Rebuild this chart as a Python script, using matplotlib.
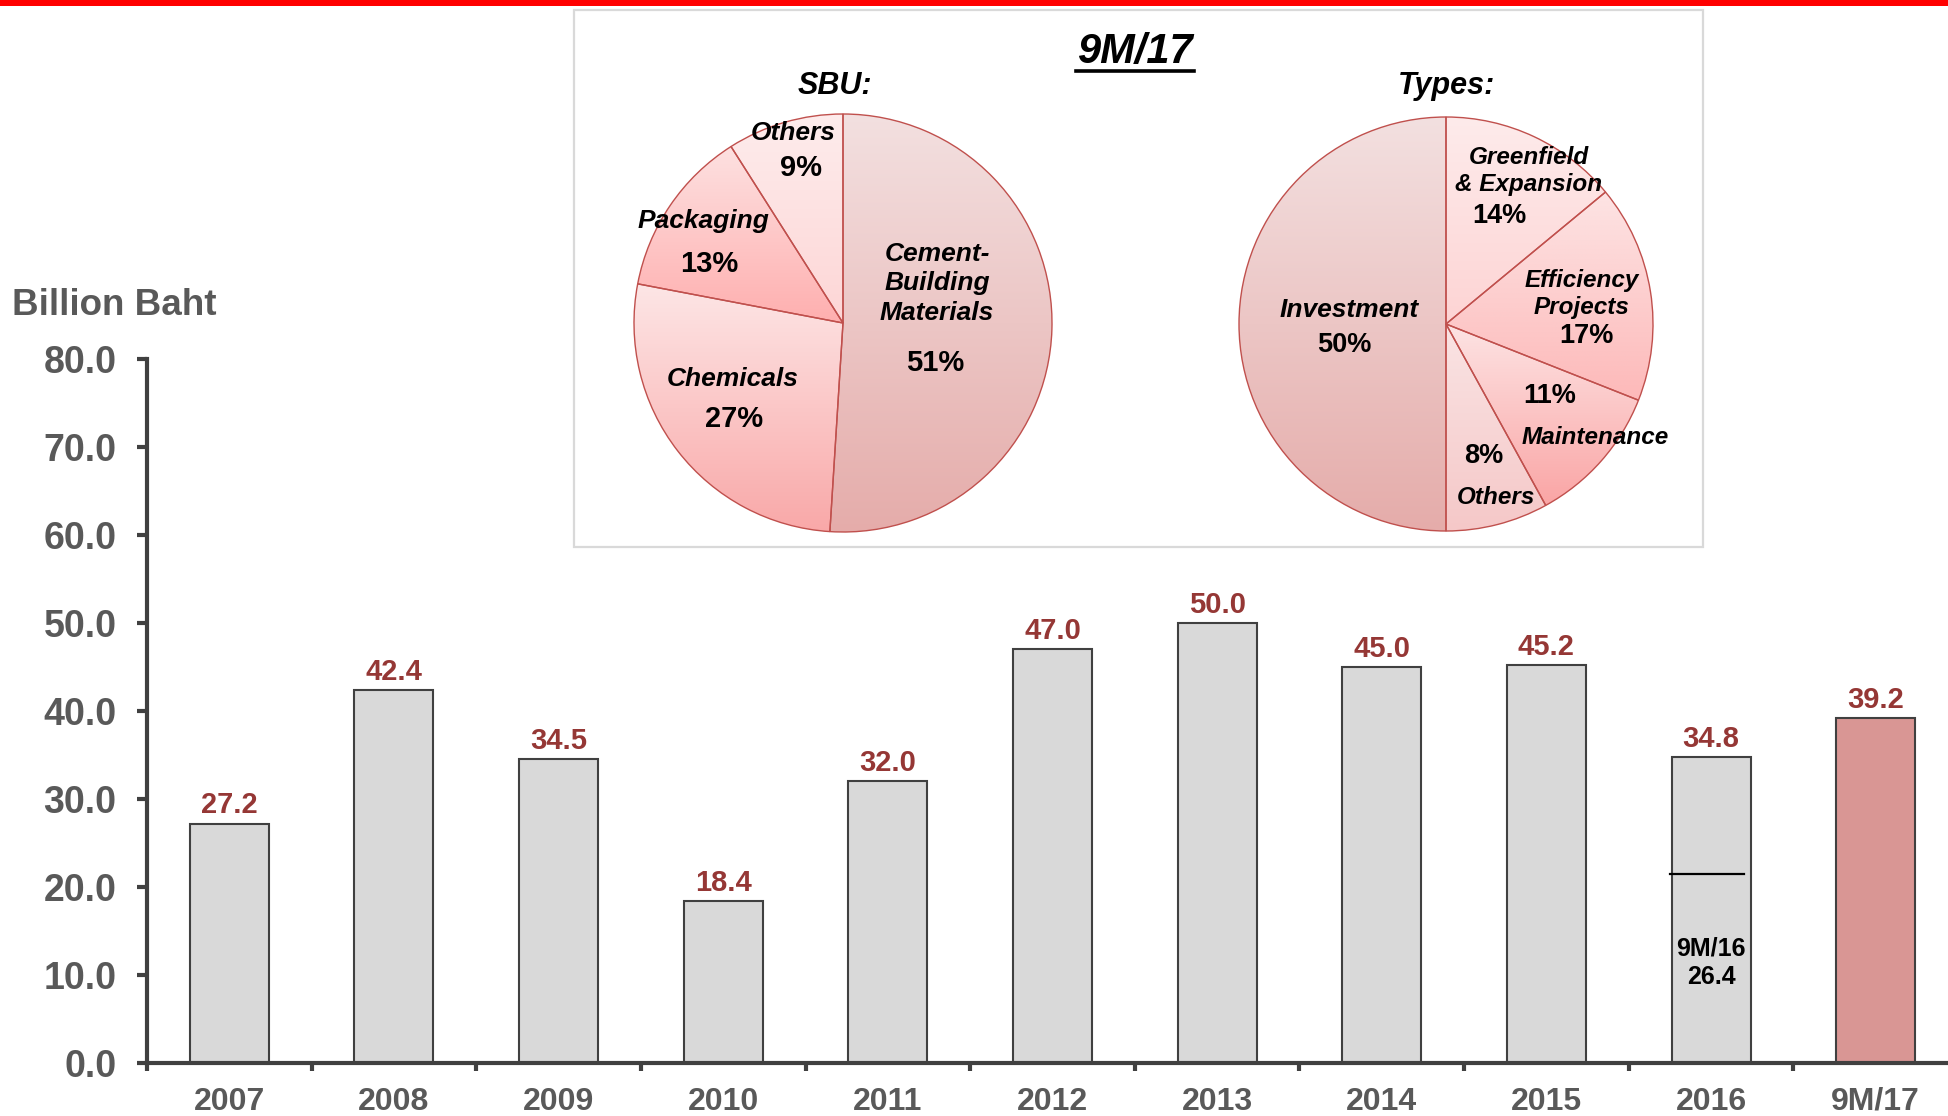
import numpy as np
import matplotlib
matplotlib.use("Agg")
import matplotlib.pyplot as plt
from matplotlib.patches import Rectangle
from matplotlib.lines import Line2D

# ---------------- data ----------------
categories = ['2007', '2008', '2009', '2010', '2011', '2012', '2013', '2014', '2015', '2016', '9M/17']
capex = [27.2, 42.4, 34.5, 18.4, 32.0, 47.0, 50.0, 45.0, 45.2, 34.8, 39.2]
ytick_values = [0, 10, 20, 30, 40, 50, 60, 70, 80]
nine_m16_value = 26.4
nine_m16_line_level = 21.5   # where the marker line is drawn in the picture

sbu_labels = ['Cement-\nBuilding\nMaterials', 'Chemicals', 'Packaging', 'Others']
sbu_shares = [51, 27, 13, 9]
type_labels = ['Greenfield\n& Expansion', 'Efficiency\nProjects', 'Maintenance', 'Others', 'Investment']
type_shares = [14, 17, 11, 8, 50]

# ---------------- style ----------------
plt.rcParams['font.family'] = ['Liberation Sans', 'DejaVu Sans']
W, H = 1949, 1116
DPI = 100
fig = plt.figure(figsize=(W / DPI, H / DPI), dpi=DPI)

GRAY_TXT = '#595959'
AXIS_COL = '#404040'
VAL_COL = '#953735'
BAR_GRAY = '#D9D9D9'
BAR_HL = '#D99694'

def fx(px):
    return px / W

def fy(py):
    return 1 - py / H

# red line on top
fig.add_artist(Rectangle((0, fy(6)), 1, 6 / H, transform=fig.transFigure,
                         facecolor='#FF0000', edgecolor='none', zorder=5))

# ---------------- bar chart ----------------
ax = fig.add_axes([fx(147), fy(1063), fx(1958 - 147), (1063 - 359) / H])
x = np.arange(len(categories))
colors = [BAR_GRAY] * (len(categories) - 1) + [BAR_HL]
bars = ax.bar(x, capex, width=0.48, color=colors, edgecolor=AXIS_COL, linewidth=1.5, zorder=2)
for xi, v in zip(x, capex):
    ax.annotate(f'{v:.1f}', xy=(xi, v), xytext=(0, 3), textcoords='offset points',
                ha='center', va='bottom', fontsize=21, fontweight='bold', color=VAL_COL)

ax.set_xlim(-0.5, len(categories) - 0.5)
ax.set_ylim(0, 80)
for s in ['top', 'right']:
    ax.spines[s].set_visible(False)
for s in ['left', 'bottom']:
    ax.spines[s].set_linewidth(3)
    ax.spines[s].set_color(AXIS_COL)

ax.set_yticks(ytick_values)
ax.set_yticklabels([f'{v:.1f}' for v in ytick_values])
ax.tick_params(axis='y', length=7, width=3, color=AXIS_COL, pad=15,
               labelsize=27, labelcolor=GRAY_TXT)
for lab in ax.get_yticklabels():
    lab.set_fontweight('bold')

ax.set_xticks(x)
ax.set_xticklabels(categories)
ax.tick_params(axis='x', which='major', length=0, pad=17, labelsize=23, labelcolor=GRAY_TXT)
for lab in ax.get_xticklabels():
    lab.set_fontweight('bold')
ax.set_xticks(np.arange(len(categories)) - 0.5, minor=True)
ax.tick_params(axis='x', which='minor', length=6, width=3, color=AXIS_COL, direction='out')

# 9M/16 marker inside the 2016 bar
i16 = categories.index('2016')
ax.plot([i16 - 0.25, i16 + 0.2], [nine_m16_line_level] * 2, color='black', lw=1.6, zorder=3)
ax.text(i16, 11.4, f'9M/16\n{nine_m16_value:.1f}', ha='center', va='center', fontsize=18,
        fontweight='bold', color='black', linespacing=1.2, zorder=3)

fig.text(fx(12), fy(305), 'Billion Baht', ha='left', va='center', fontsize=26.5,
         fontweight='bold', color=GRAY_TXT)

# ---------------- pie box ----------------
fig.add_artist(Rectangle((fx(574), fy(547)), fx(1703 - 574), (547 - 10) / H,
                         transform=fig.transFigure, facecolor='white',
                         edgecolor='#D9D9D9', linewidth=1.6, zorder=3))

fig.text(fx(1135), fy(52), '9M/17', ha='center', va='center', fontsize=30,
         fontweight='bold', style='italic', color='black', zorder=6)
fig.add_artist(Line2D([fx(1076), fx(1194)], [fy(71), fy(71)], transform=fig.transFigure,
                      color='black', linewidth=2.6, zorder=6))
fig.text(fx(835), fy(86), 'SBU:', ha='center', va='center', fontsize=22,
         fontweight='bold', style='italic', color='black', zorder=6)
fig.text(fx(1446), fy(86), 'Types:', ha='center', va='center', fontsize=22,
         fontweight='bold', style='italic', color='black', zorder=6)


def gradient_pie(cx, cy, r, shares, grads):
    half = r * 1.04
    pax = fig.add_axes([fx(cx - half), fy(cy + half), fx(2 * half), 2 * half / H], zorder=6)
    pax.set_facecolor('none')
    wedges, _ = pax.pie(shares, radius=1, startangle=90, counterclock=False,
                        wedgeprops=dict(facecolor='none', edgecolor='#C0504D', linewidth=1.0))
    for w, (ctop, cbot) in zip(wedges, grads):
        verts = w.get_path().vertices
        x0, x1 = verts[:, 0].min(), verts[:, 0].max()
        y0, y1 = verts[:, 1].min(), verts[:, 1].max()
        t = np.linspace(0, 1, 256)[:, None]
        ct = np.array(ctop) / 255.0
        cb = np.array(cbot) / 255.0
        img = (ct[None, :] * (1 - t) + cb[None, :] * t)[:, None, :]
        im = pax.imshow(img, extent=[x0, x1, y0, y1], origin='upper', aspect='auto',
                        zorder=0.5, interpolation='bilinear')
        im.set_clip_path(w)
        w.set_zorder(1)
    pax.set_xlim(-1.04, 1.04)
    pax.set_ylim(-1.04, 1.04)
    pax.axis('off')
    return pax

GREYPINK = ((243, 224, 224), (229, 172, 170))
sbu_grads = [GREYPINK,
             ((253, 230, 230), (249, 168, 168)),
             ((253, 225, 225), (255, 175, 175)),
             ((254, 236, 236), (253, 214, 214))]
type_grads = [((254, 235, 235), (253, 212, 212)),
              ((253, 228, 228), (253, 185, 185)),
              ((253, 228, 228), (250, 165, 165)),
              ((250, 228, 228), (245, 200, 200)),
              GREYPINK]

pa = gradient_pie(843, 323, 209, sbu_shares, sbu_grads)
pb = gradient_pie(1446, 324, 207, type_shares, type_grads)

name_kw = dict(ha='center', va='center', fontweight='bold', style='italic', color='black', zorder=5)
pct_kw = dict(ha='center', va='center', fontweight='bold', color='black', zorder=5)
# SBU labels (name position, pct position)
sbu_pos = [((0.45, 0.19), (0.44, -0.19)),
           ((-0.53, -0.27), (-0.52, -0.46)),
           ((-0.67, 0.49), (-0.64, 0.28)),
           ((-0.24, 0.91), (-0.20, 0.74))]
for name, share, (pn, pp) in zip(sbu_labels, sbu_shares, sbu_pos):
    pa.text(*pn, name, fontsize=19, linespacing=1.3, **name_kw)
    pa.text(*pp, f'{share}%', fontsize=21, **pct_kw)

type_pos = [((0.40, 0.74), (0.26, 0.52)),
            ((0.655, 0.145), (0.68, -0.06)),
            ((0.72, -0.55), (0.50, -0.35)),
            ((0.24, -0.84), (0.18, -0.64)),
            ((-0.47, 0.07), (-0.49, -0.10))]
for name, share, (pn, pp) in zip(type_labels, type_shares, type_pos):
    fs = 19 if name == 'Investment' else 17.5
    pb.text(*pn, name, fontsize=fs, linespacing=1.25, **name_kw)
    pb.text(*pp, f'{share}%', fontsize=19.5, **pct_kw)

fig.savefig('out.png', dpi=DPI)
